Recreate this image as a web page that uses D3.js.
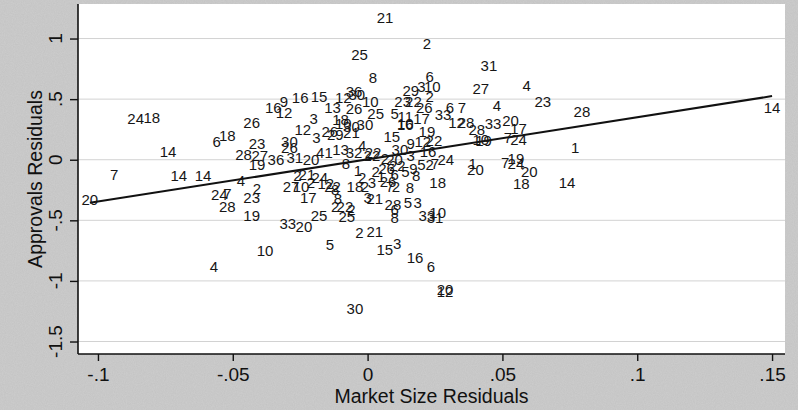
<!DOCTYPE html>
<html>
<head>
<meta charset="utf-8">
<script src="https://cdn.jsdelivr.net/npm/d3@7"></script>
<style>
  body { margin: 0; background: #c9c9c9; }
  svg { display: block; font-family: "Liberation Sans", Arial, sans-serif; }
</style>
</head>
<body>
<div id="vis"></div>
<script>
// point labels (state ids) and their residuals
const pointLabels = [
  "20","7","24","18","14","14","14","6","18","4","4","24","7","28","2","23","19","10","26","23",
  "28","27","19","36","31","20","41","13","32","4","22","16","9","12","16","15","13","3","12","3",
  "26","29","30","26","12","36","30","26","10","25","18","10","30","30","21","5","11","10","16","17",
  "29","3","10","2","23","22","26","6","2","21","25","8","31","27","4","4","23","28","14","33",
  "6","7","12","28","28","19","10","33","20","17","7","24","1","14","20","18","7","24","19","20",
  "1","24","18","15","9","19","12","22","16","30","5","2","7","8","22","2","20","3","1","2",
  "18","2","3","21","7","2","8","2","1","26","6","22","5","9","8","3","26","28","5","3",
  "6","8","33","10","31","2","21","24","12","22","2","27","10","17","8","8","25","33","20","2",
  "22","25","2","2","21","5","15","3","16","6","30","20","12"
];
const marketSizeResid = [
  -0.103,-0.094,-0.086,-0.080,-0.074,-0.070,-0.061,-0.056,-0.052,-0.057,-0.047,-0.055,-0.052,-0.052,-0.041,-0.043,-0.043,-0.038,-0.043,-0.041,
  -0.046,-0.040,-0.041,-0.034,-0.027,-0.021,-0.016,-0.010,-0.005,-0.002,0.002,-0.035,-0.031,-0.031,-0.025,-0.018,-0.013,-0.020,-0.024,-0.019,
  -0.014,-0.012,-0.029,-0.029,-0.009,-0.005,-0.004,-0.005,0.001,0.003,-0.010,-0.009,-0.006,-0.001,-0.006,0.010,0.014,0.014,0.014,0.020,
  0.016,0.020,0.024,0.023,0.013,0.017,0.021,0.023,0.022,0.0065,-0.003,0.002,0.045,0.042,0.059,0.048,0.065,0.0795,0.150,0.028,
  0.0305,0.035,0.033,0.0365,0.0405,0.043,0.042,0.0465,0.053,0.056,0.052,0.056,0.077,0.074,0.060,0.057,0.051,0.055,0.055,0.040,
  0.039,0.029,0.026,0.009,0.016,0.022,0.0205,0.0246,0.0224,0.012,0.020,0.023,0.025,-0.008,0.0016,0.0064,0.010,0.016,-0.0036,-0.002,
  -0.0047,-0.001,0.000,0.0027,0.0083,0.0105,0.0157,0.003,0.005,0.007,0.010,0.011,0.014,0.017,0.018,0.0016,0.0076,0.0094,0.015,0.0186,
  0.010,0.010,0.022,0.026,0.025,-0.026,-0.0225,-0.0177,-0.0155,-0.013,-0.021,-0.0284,-0.0247,-0.022,-0.011,-0.012,-0.018,-0.0296,-0.0236,-0.012,
  -0.0084,-0.0077,-0.006,-0.003,0.0027,-0.014,0.0064,0.011,0.0176,0.0235,-0.0047,0.0287,0.0287
];
const approvalsResid = [
  -0.33,-0.12,0.34,0.35,0.07,-0.13,-0.13,0.15,0.20,-0.88,-0.17,-0.29,-0.28,-0.39,-0.24,-0.31,-0.46,-0.75,0.31,0.13,
  0.04,0.03,-0.04,0.00,0.02,0.00,0.06,0.08,0.055,0.113,0.055,0.43,0.48,0.39,0.51,0.52,0.43,0.34,0.25,0.18,
  0.23,0.21,0.15,0.10,0.51,0.56,0.54,0.42,0.48,0.38,0.33,0.30,0.27,0.29,0.22,0.38,0.36,0.30,0.29,0.34,
  0.57,0.60,0.60,0.52,0.48,0.48,0.43,0.69,0.96,1.17,0.87,0.68,0.78,0.59,0.61,0.45,0.48,0.40,0.43,0.37,
  0.43,0.43,0.31,0.31,0.25,0.16,0.17,0.30,0.32,0.26,0.18,0.17,0.10,-0.19,-0.10,-0.20,-0.02,-0.03,0.01,-0.085,
  -0.03,0.00,-0.19,0.19,0.13,0.23,0.15,0.16,0.07,0.08,-0.04,-0.04,-0.03,-0.03,0.03,0.01,0.00,0.03,-0.09,-0.15,
  -0.225,-0.225,-0.31,-0.32,-0.225,-0.225,-0.23,-0.10,-0.14,-0.07,-0.12,-0.05,-0.10,-0.07,-0.13,-0.19,-0.18,-0.37,-0.35,-0.35,
  -0.415,-0.48,-0.46,-0.44,-0.48,-0.135,-0.125,-0.15,-0.20,-0.225,-0.19,-0.225,-0.225,-0.31,-0.32,-0.25,-0.46,-0.53,-0.555,-0.39,
  -0.39,-0.47,-0.415,-0.605,-0.595,-0.70,-0.745,-0.69,-0.81,-0.88,-1.23,-1.075,-1.085
];

// fitted regression line
const fitIntercept = 0.003;
const fitSlope = 3.48;

const xTicks = [-0.1, -0.05, 0, 0.05, 0.1, 0.15];
const xTickLabels = ["-.1", "-.05", "0", ".05", ".1", ".15"];
const yTicks = [-1.5, -1, -0.5, 0, 0.5, 1];
const yTickLabels = ["-1.5", "-1", "-.5", "0", ".5", "1"];

var margin = { top: 4, right: 13, bottom: 56, left: 78 },
    width = 798 - margin.left - margin.right,
    height = 410 - margin.top - margin.bottom;

const svg = d3.select("#vis")
    .append("svg")
    .attr("width", 798)
    .attr("height", 410);

// grainy grey backdrop like the scanned original
const grain = svg.append("defs").append("filter")
    .attr("id", "grain")
    .attr("x", 0).attr("y", 0).attr("width", "100%").attr("height", "100%");
grain.append("feTurbulence")
    .attr("type", "fractalNoise")
    .attr("baseFrequency", 0.9)
    .attr("numOctaves", 2)
    .attr("seed", 3)
    .attr("result", "noise");
grain.append("feColorMatrix")
    .attr("in", "noise")
    .attr("type", "matrix")
    .attr("values", "0 0 0 0 0.79  0 0 0 0 0.79  0 0 0 0 0.79  0.55 0 0 0 -0.12")
    .attr("result", "speck");
grain.append("feFlood").attr("flood-color", "#cbcbcb").attr("result", "base");
grain.append("feBlend").attr("in", "speck").attr("in2", "base").attr("mode", "multiply");

svg.append("rect")
    .attr("width", 798)
    .attr("height", 410)
    .attr("fill", "#c9c9c9")
    .attr("filter", "url(#grain)");

const g = svg.append("g")
    .attr("transform", `translate(${margin.left}, ${margin.top})`);

const x = d3.scaleLinear().domain([-0.1074, 0.1548]).range([0, width]);
const y = d3.scaleLinear().domain([-1.603, 1.285]).range([height, 0]);

// white plot region
g.append("rect")
    .attr("width", width)
    .attr("height", height)
    .attr("fill", "#ffffff");

// horizontal grid lines
g.selectAll("line.grid")
    .data(yTicks)
    .join("line")
    .attr("class", "grid")
    .attr("x1", 0)
    .attr("x2", width)
    .attr("y1", d => y(d))
    .attr("y2", d => y(d))
    .attr("stroke", "#d2d2d2")
    .attr("stroke-width", 1);

// x axis
const xAxis = g.append("g")
    .attr("transform", `translate(0, ${height})`)
    .call(d3.axisBottom(x).tickValues(xTicks).tickSize(7).tickSizeOuter(0)
        .tickFormat((d, i) => xTickLabels[i]));
xAxis.select(".domain").attr("stroke", "#111").attr("stroke-width", 1.6)
    .attr("d", `M0,0H${width}`);
xAxis.selectAll(".tick line").attr("stroke", "#111").attr("stroke-width", 1.4);
xAxis.selectAll("text")
    .attr("y", 14)
    .attr("fill", "#111")
    .style("font-size", "19px")
    .style("font-family", "'Liberation Sans', Arial, sans-serif");

// y axis
const yAxis = g.append("g")
    .call(d3.axisLeft(y).tickValues(yTicks).tickSize(8).tickSizeOuter(0).tickFormat(""));
yAxis.select(".domain").attr("stroke", "#111").attr("stroke-width", 1.6)
    .attr("d", `M0,${height}V0`);
yAxis.selectAll(".tick line").attr("stroke", "#111").attr("stroke-width", 1.4);

g.selectAll("text.ytick")
    .data(yTicks)
    .join("text")
    .attr("class", "ytick")
    .attr("transform", d => `translate(${-23}, ${y(d)}) rotate(-90)`)
    .attr("text-anchor", "middle")
    .attr("dy", "0.35em")
    .attr("fill", "#111")
    .style("font-size", "19px")
    .text((d, i) => yTickLabels[i]);

// axis titles
svg.append("text")
    .attr("x", margin.left + width / 2)
    .attr("y", 403)
    .attr("text-anchor", "middle")
    .attr("fill", "#111")
    .style("font-size", "19.5px")
    .text("Market Size Residuals");

svg.append("text")
    .attr("transform", `translate(35, ${margin.top + height / 2}) rotate(-90)`)
    .attr("text-anchor", "middle")
    .attr("dy", "0.35em")
    .attr("fill", "#111")
    .style("font-size", "19.5px")
    .text("Approvals Residuals");

// fitted line across the range of the data
const xExt = d3.extent(marketSizeResid);
g.append("line")
    .attr("x1", x(xExt[0]))
    .attr("y1", y(fitIntercept + fitSlope * xExt[0]))
    .attr("x2", x(xExt[1]))
    .attr("y2", y(fitIntercept + fitSlope * xExt[1]))
    .attr("stroke", "#111")
    .attr("stroke-width", 2);

// labels used as markers
const points = pointLabels.map((lab, i) => ({ lab: lab, mx: marketSizeResid[i], ay: approvalsResid[i] }));
g.selectAll("text.pt")
    .data(points)
    .join("text")
    .attr("class", "pt")
    .attr("x", d => x(d.mx))
    .attr("y", d => y(d.ay))
    .attr("text-anchor", "middle")
    .attr("dy", "0.36em")
    .attr("fill", "#161616")
    .style("font-size", "15px")
    .text(d => d.lab);
</script>
</body>
</html>
